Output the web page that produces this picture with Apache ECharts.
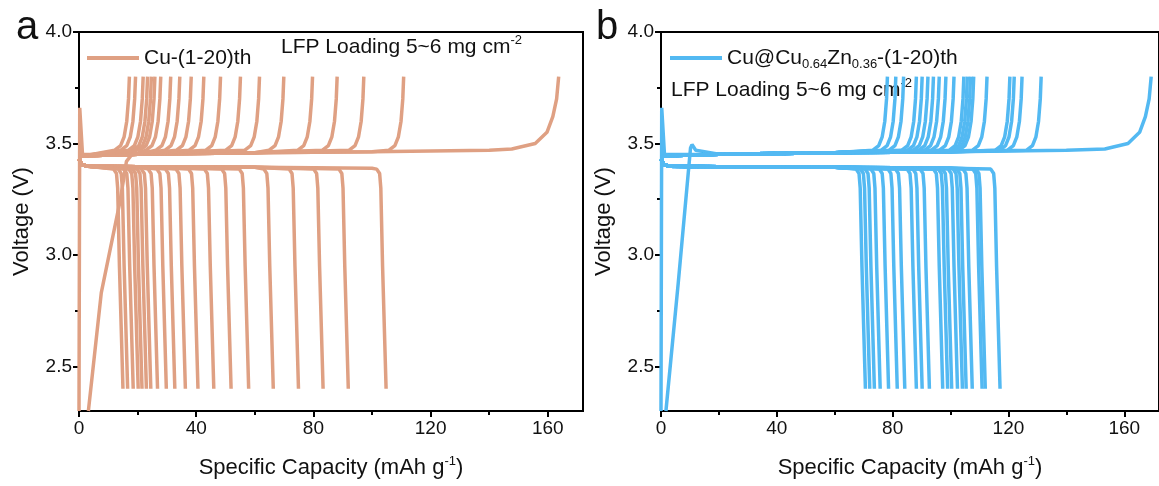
<!DOCTYPE html>
<html>
<head>
<meta charset="utf-8">
<script src="https://cdn.jsdelivr.net/npm/echarts@6/dist/echarts.min.js"></script>
<style>
  html, body { margin: 0; padding: 0; background: #fff; }
  #chart { width: 1159px; height: 486px; }
</style>
</head>
<body>
<div id="chart"></div>
<script>
// capacity at the end of each cycle (mAh g-1), cycles 1-20
const cuChargeEnd = [163.7, 110.8, 97.2, 88.1, 79.7, 69.9, 61.6, 55.1, 48.3, 42.6, 38.3, 34.4, 31.3, 27.9, 25.9, 24.7, 23.4, 21.9, 19.3, 17.2]
const cuDischargeEnd = [104.8, 91.9, 83.3, 74.9, 66.3, 57.9, 51.9, 46.0, 40.6, 36.3, 32.7, 29.8, 26.8, 24.5, 23.0, 21.5, 20.2, 18.5, 16.6, 15.0]
const cuznChargeEnd = [169.3, 131.3, 124.7, 122.0, 120.5, 112.6, 108.0, 106.9, 105.8, 104.6, 101.2, 98.4, 96.1, 94.1, 92.2, 90.2, 88.2, 83.8, 81.1, 78.2]
const cuznDischargeEnd = [117.1, 112.0, 110.9, 107.5, 105.4, 104.1, 102.4, 100.4, 99.0, 97.3, 92.7, 90.2, 88.2, 84.2, 81.6, 78.6, 75.7, 73.7, 72.1, 70.6]

// curve pieces [capacity, voltage]; *End pieces are offsets from the end capacity
const chargeStart = [[0, 3.44], [2, 3.445]]
const chargeFirstStart = [[0, 2.3], [0.25, 3.66], [1.2, 3.45]]
const cuChargeSecondStart = [[3.2, 2.3], [7.6, 2.83], [14, 3.24], [16.2, 3.42], [18, 3.45]]
const cuznChargeSecondStart = [[1.7, 2.3], [6, 2.88], [10.2, 3.48], [10.7, 3.495], [12, 3.47]]
const chargePlateau = [[20, 3.452], [60, 3.458], [100, 3.463], [140, 3.47]]
const chargeEnd = [[-5, 3.47], [-3, 3.49], [-1.8, 3.53], [-0.9, 3.6], [-0.3, 3.7], [0, 3.8]]
const chargeFirstEnd = [[-16, 3.475], [-8, 3.5], [-4, 3.55], [-2, 3.62], [-0.7, 3.7], [0, 3.8]]
const dischargeStart = [[0, 3.43], [1, 3.405], [3, 3.398]]
const dischargePlateau = [[20, 3.396], [60, 3.393], [100, 3.389]]
const dischargeEnd = [[-3.2, 3.385], [-2.2, 3.365], [-1.8, 3.3], [-1.2, 2.95], [0, 2.4]]

const xTicks = [0, 40, 80, 120, 160]
const xMinorTicks = [20, 60, 100, 140]
const yTicks = [2.5, 3.0, 3.5, 4.0]
const yMinorTicks = [2.75, 3.25, 3.75]

const cuName = 'Cu-(1-20)th'
const cuznName = 'Cu@Cu0.64Zn0.36-(1-20)th'
const font = 'Liberation Sans'
const ink = '#111'

const buildCurve = (start, plateau, end, cap) => {
  const cut = cap + end[0][0]
  const lastStart = start[start.length - 1][0]
  return [
    ...start.filter(p => p[0] < cut),
    ...plateau.filter(p => p[0] > lastStart && p[0] < cut),
    ...end.map(p => [cap + p[0], p[1]])
  ]
}

const panelSeries = (name, color, axis, charge, discharge, secondStart) => {
  const list = []
  const line = (data) => ({
    type: 'line', name, data, xAxisIndex: axis, yAxisIndex: axis,
    showSymbol: false, symbol: 'none', color,
    lineStyle: { width: 3.5, color }, emphasis: { disabled: true }
  })
  discharge.forEach(cap => list.push(line(buildCurve(dischargeStart, dischargePlateau, dischargeEnd, cap))))
  charge.forEach((cap, i) => {
    const start = i === 0 ? chargeFirstStart : i === 1 ? secondStart : chargeStart
    const end = i === 0 ? chargeFirstEnd : chargeEnd
    list.push(line(buildCurve(start, chargePlateau, end, cap)))
  })
  return list
}

const xAxes = (grid) => [
  {
    gridIndex: grid, type: 'value', min: 0, max: 172,
    axisLine: { show: true, lineStyle: { color: '#000', width: 2 } },
    axisTick: { customValues: xTicks, length: 6, lineStyle: { color: '#000', width: 2 } },
    axisLabel: { customValues: xTicks, fontSize: 19, fontFamily: font, color: ink, margin: 8 },
    splitLine: { show: false },
    name: 'Specific Capacity (mAh g{sup|-1})', nameLocation: 'middle', nameGap: 44,
    nameTextStyle: {
      fontSize: 22, fontFamily: font, color: ink, lineHeight: 26,
      rich: { sup: { fontSize: 13, fontFamily: font, color: ink, lineHeight: 14, verticalAlign: 'top' } }
    }
  },
  {
    gridIndex: grid, type: 'value', min: 0, max: 172, position: 'bottom',
    axisLine: { show: false },
    axisTick: { customValues: xMinorTicks, length: 4, lineStyle: { color: '#000', width: 2 } },
    axisLabel: { show: false }, splitLine: { show: false }
  }
]

const yAxes = (grid) => [
  {
    gridIndex: grid, type: 'value', min: 2.3, max: 4.0,
    axisLine: { show: true, lineStyle: { color: '#000', width: 2 } },
    axisTick: { customValues: yTicks, length: 6, lineStyle: { color: '#000', width: 2 } },
    axisLabel: { customValues: yTicks, fontSize: 19, fontFamily: font, color: ink, margin: 7, formatter: v => v.toFixed(1) },
    splitLine: { show: false },
    name: 'Voltage (V)', nameLocation: 'middle', nameGap: 46,
    nameTextStyle: { fontSize: 22, fontFamily: font, color: ink }
  },
  {
    gridIndex: grid, type: 'value', min: 2.3, max: 4.0, position: 'left',
    axisLine: { show: false },
    axisTick: { customValues: yMinorTicks, length: 4, lineStyle: { color: '#000', width: 2 } },
    axisLabel: { show: false }, splitLine: { show: false }
  }
]

const legendBase = {
  top: 45, padding: 0, icon: 'rect', itemWidth: 52, itemHeight: 4, selectedMode: false
}

const chart = echarts.init(document.getElementById('chart'))
chart.setOption({
  animation: false,
  backgroundColor: '#fff',
  grid: [
    { left: 79, top: 32, width: 504, height: 379, show: true, borderColor: '#000', borderWidth: 2 },
    { left: 661, top: 32, width: 506, height: 379, show: true, borderColor: '#000', borderWidth: 2 }
  ],
  xAxis: [...xAxes(0), ...xAxes(1)],
  yAxis: [...yAxes(0), ...yAxes(1)],
  legend: [
    {
      ...legendBase, left: 87, data: [cuName],
      textStyle: { fontSize: 21, fontFamily: font, color: ink, lineHeight: 26 }
    },
    {
      ...legendBase, left: 670, data: [cuznName],
      formatter: () => 'Cu@Cu{sub|0.64}Zn{sub|0.36}-(1-20)th',
      textStyle: {
        fontSize: 21, fontFamily: font, color: ink, lineHeight: 26,
        rich: { sub: { fontSize: 13, fontFamily: font, color: ink, lineHeight: 14, verticalAlign: 'bottom' } }
      }
    }
  ],
  graphic: [
    { type: 'text', left: 16, top: 8, style: { text: 'a', font: '40px ' + font, fill: ink } },
    { type: 'text', left: 596, top: 8, style: { text: 'b', font: '40px ' + font, fill: ink } },
    {
      type: 'text', x: 281, y: 47,
      style: {
        text: 'LFP Loading 5~6 mg cm{sup|-2}', font: '21px ' + font, fill: ink, verticalAlign: 'middle', lineHeight: 26,
        rich: { sup: { fontSize: 13, fontFamily: font, fill: ink, lineHeight: 14, verticalAlign: 'top' } }
      }
    },
    {
      type: 'text', x: 671, y: 90,
      style: {
        text: 'LFP Loading 5~6 mg cm{sup|-2}', font: '21px ' + font, fill: ink, verticalAlign: 'middle', lineHeight: 26,
        rich: { sup: { fontSize: 13, fontFamily: font, fill: ink, lineHeight: 14, verticalAlign: 'top' } }
      }
    }
  ],
  series: [
    ...panelSeries(cuName, '#DFA083', 0, cuChargeEnd, cuDischargeEnd, cuChargeSecondStart),
    ...panelSeries(cuznName, '#53B9F2', 2, cuznChargeEnd, cuznDischargeEnd, cuznChargeSecondStart)
  ]
})
</script>
</body>
</html>
